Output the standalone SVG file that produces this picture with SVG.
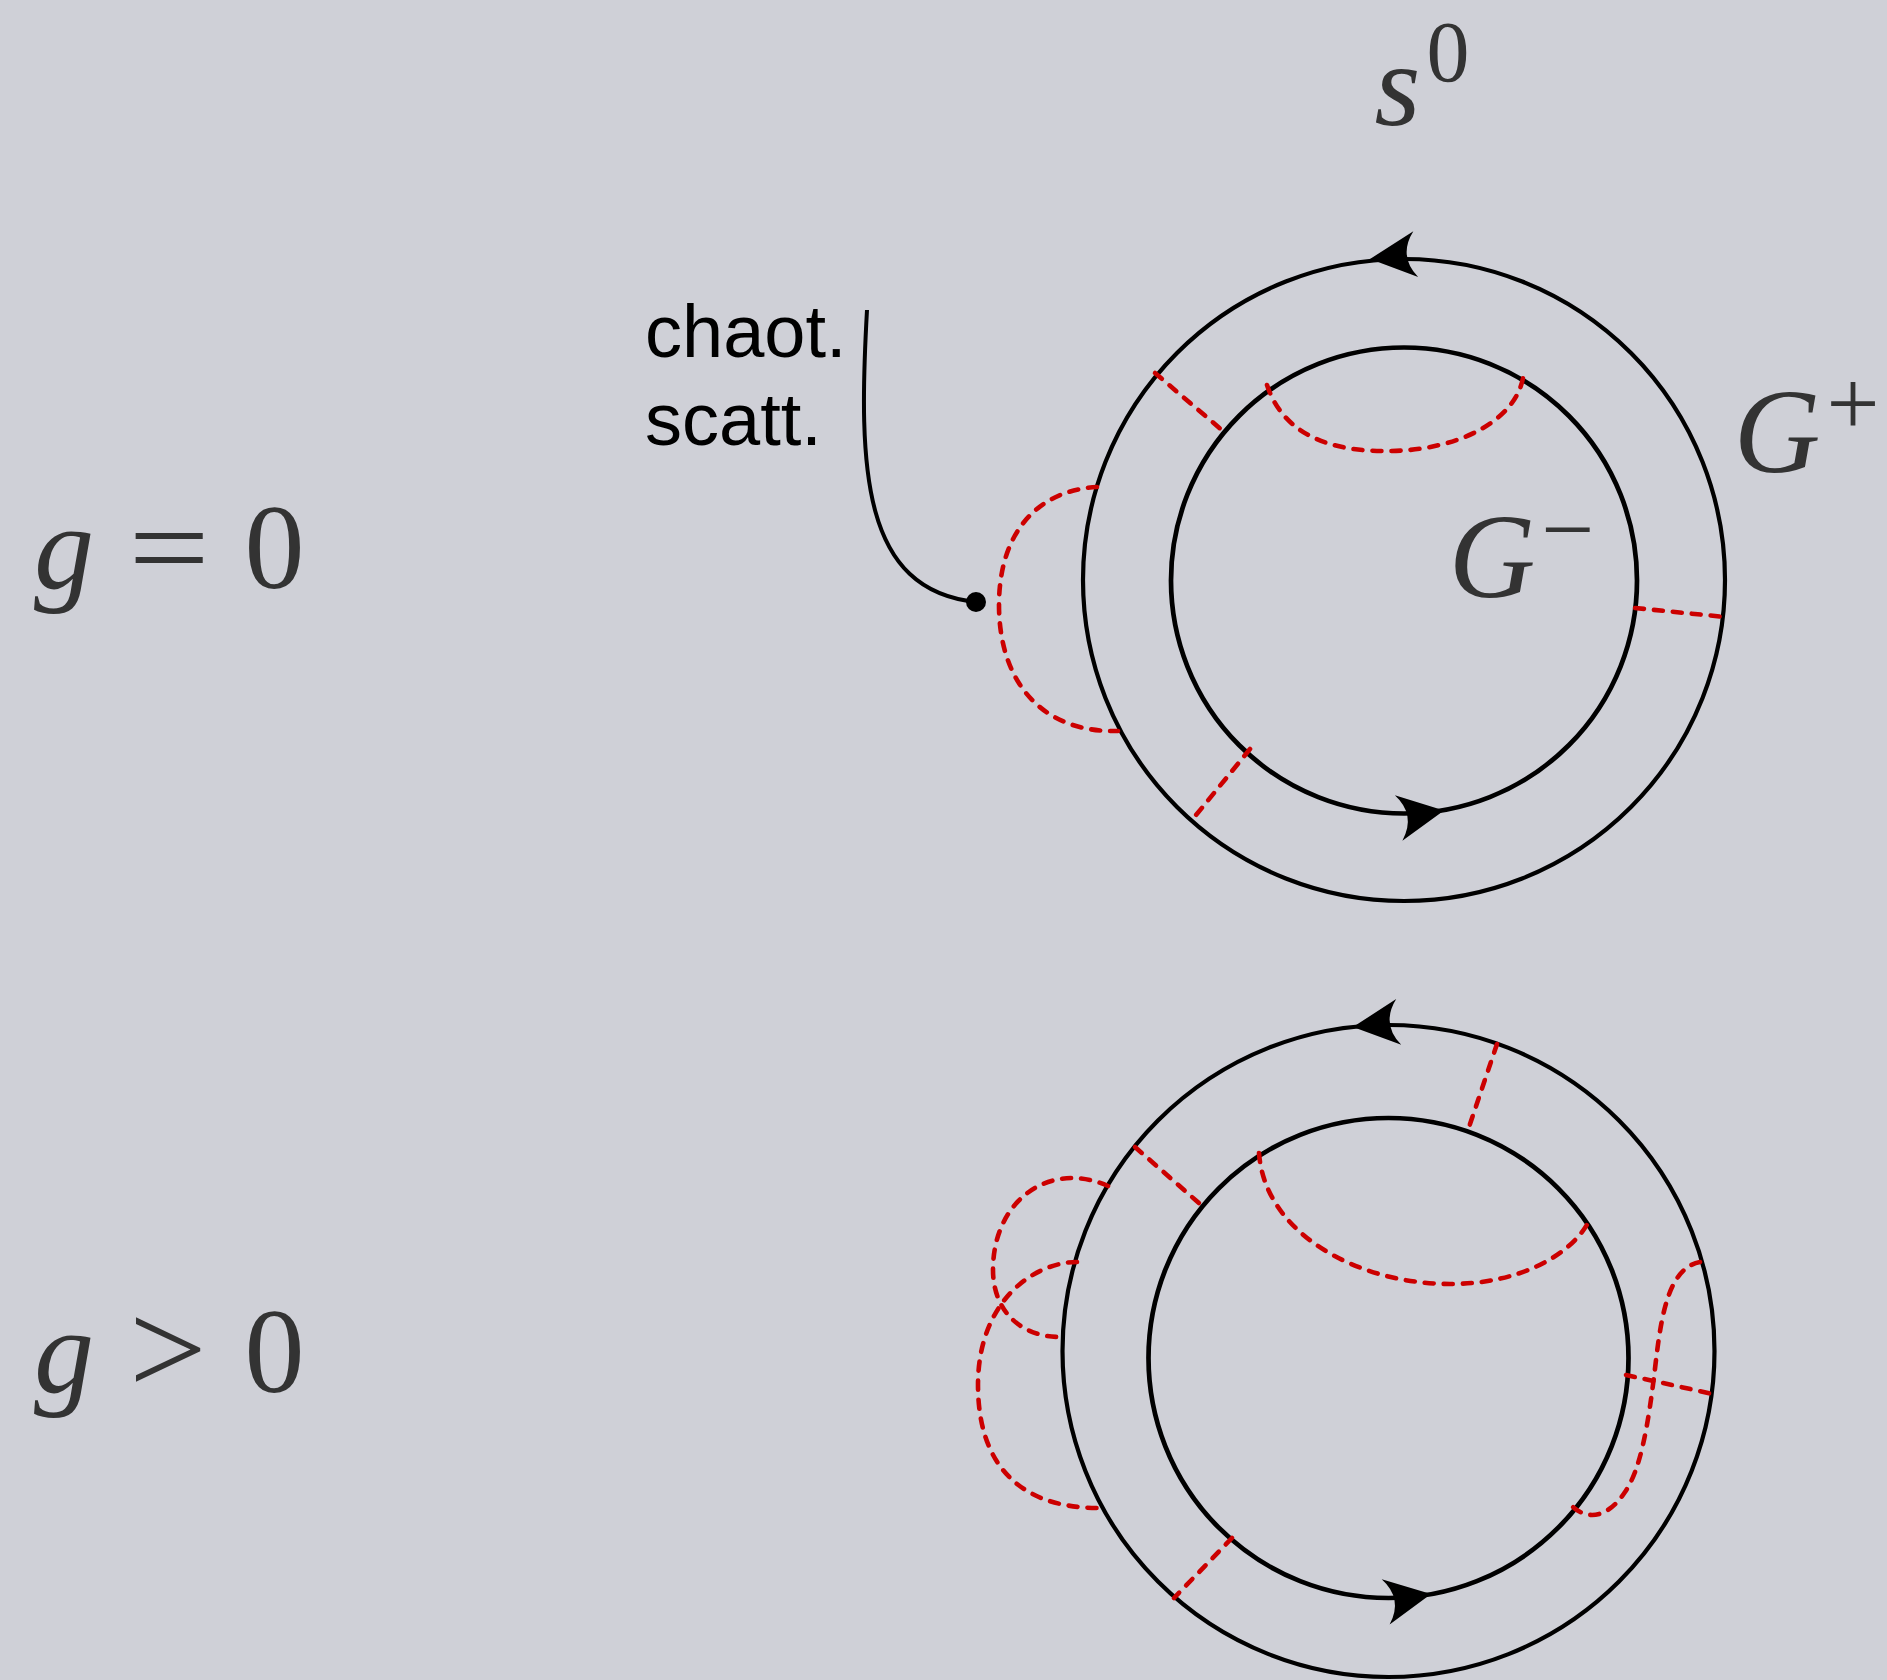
<svg xmlns="http://www.w3.org/2000/svg" width="1887" height="1680" viewBox="0 0 1887 1680">
  <defs>
    <style>
      .ring { fill: none; stroke: #000; stroke-width: 4.2; }
      .ring-in { fill: none; stroke: #000; stroke-width: 4.7; }
      .dash { fill: none; stroke: #cc0000; stroke-width: 4.6; stroke-dasharray: 9 10; stroke-linecap: round; }
      .math { font-family: "Liberation Serif", "DejaVu Serif", serif; fill: #333333; }
      .it { font-style: italic; }
      .sans { font-family: "Liberation Sans", Arial, sans-serif; fill: #000; font-size: 74px; }
    </style>
    <path id="arrowhead" d="M0,0 L-46,-23 Q-28,0 -46,23 Z" fill="#000"/>
  </defs>

  <rect x="0" y="0" width="1887" height="1680" fill="#cfd0d7"/>

  <!-- Left labels -->
  <g id="label-g-eq-0" class="math" font-size="120">
    <text x="64" y="588" text-anchor="middle" class="it">g</text>
    <text transform="translate(169,588) scale(1.2,1)" x="0" y="0" text-anchor="middle">=</text>
    <text x="274.5" y="588" text-anchor="middle">0</text>
  </g>
  <g id="label-g-gt-0" class="math" font-size="120">
    <text x="64" y="1392" text-anchor="middle" class="it">g</text>
    <text transform="translate(168,1394) scale(1.15,1.12)" x="0" y="0" text-anchor="middle">&gt;</text>
    <text x="274.5" y="1392" text-anchor="middle">0</text>
  </g>

  <!-- Top diagram -->
  <g id="top-outer">
    <circle class="ring" cx="1404" cy="580" r="321"/>
    <use href="#arrowhead" transform="translate(1370,259) rotate(174)"/>
  </g>
  <g id="top-inner">
    <circle class="ring-in" cx="1404" cy="580.5" r="233"/>
    <use href="#arrowhead" transform="translate(1444,810.5) rotate(-9.4)"/>
  </g>
  <g id="label-s0" class="math">
    <text x="1397.5" y="125" text-anchor="middle" class="it" font-size="118">s</text>
    <text x="1448" y="81" text-anchor="middle" font-size="86">0</text>
  </g>
  <g id="label-Gplus" class="math">
    <text x="1777" y="472" text-anchor="middle" class="it" font-size="120">G</text>
    <text x="1853" y="435" text-anchor="middle" font-size="94">+</text>
  </g>
  <g id="label-Gminus" class="math">
    <text x="1492" y="597" text-anchor="middle" class="it" font-size="120">G</text>
    <text x="1567.5" y="561" text-anchor="middle" font-size="94">−</text>
  </g>
  <g id="label-chaot">
    <text class="sans" x="645" y="357">chaot.</text>
    <text class="sans" x="645" y="445">scatt.</text>
  </g>

  <!-- Bottom diagram -->
  <g id="bottom-outer">
    <circle class="ring" cx="1388.5" cy="1351" r="326"/>
    <use href="#arrowhead" transform="translate(1353,1027) rotate(173.7)"/>
  </g>
  <g id="bottom-inner">
    <circle class="ring-in" cx="1388.5" cy="1358" r="240"/>
    <use href="#arrowhead" transform="translate(1431,1594) rotate(-9.9)"/>
  </g>

  <!-- Connectors -->
  <g id="connectors">
    <!-- pointer to chaotic scattering -->
    <path d="M867,310 C858,470 862,590 976,602" fill="none" stroke="#000" stroke-width="4"/>
    <circle cx="976" cy="602" r="10" fill="#000"/>

    <!-- top diagram dashed lines -->
    <line class="dash" x1="1155" y1="373" x2="1223" y2="431"/>
    <path class="dash" d="M1267,385 C1285,440 1340,452 1390,451 C1460,450 1515,420 1523,378"/>
    <line class="dash" x1="1635" y1="608" x2="1725" y2="617"/>
    <line class="dash" x1="1250" y1="749" x2="1192" y2="820"/>
    <path class="dash" d="M1097,487 C1040,490 999,530 999,605 C999,680 1040,733 1118,731"/>

    <!-- bottom diagram dashed lines -->
    <line class="dash" x1="1497" y1="1044" x2="1467" y2="1133"/>
    <line class="dash" x1="1135" y1="1147" x2="1200" y2="1204"/>
    <path class="dash" d="M1259,1153 C1265,1235 1360,1284 1450,1284 C1520,1284 1570,1255 1588,1223"/>
    <line class="dash" x1="1232" y1="1538" x2="1174" y2="1598"/>
    <line class="dash" x1="1626" y1="1375" x2="1713" y2="1394"/>
    <path class="dash" d="M1700,1262 C1670,1268 1662,1310 1656,1360 C1648,1430 1640,1470 1625,1492 C1610,1515 1590,1522 1573,1507"/>
    <path class="dash" d="M1108,1186 C1050,1160 993,1200 993,1270 C993,1310 1020,1338 1063,1337"/>
    <path class="dash" d="M1077,1262 C1035,1262 978,1300 978,1385 C978,1460 1015,1508 1099,1508"/>
  </g>
</svg>
